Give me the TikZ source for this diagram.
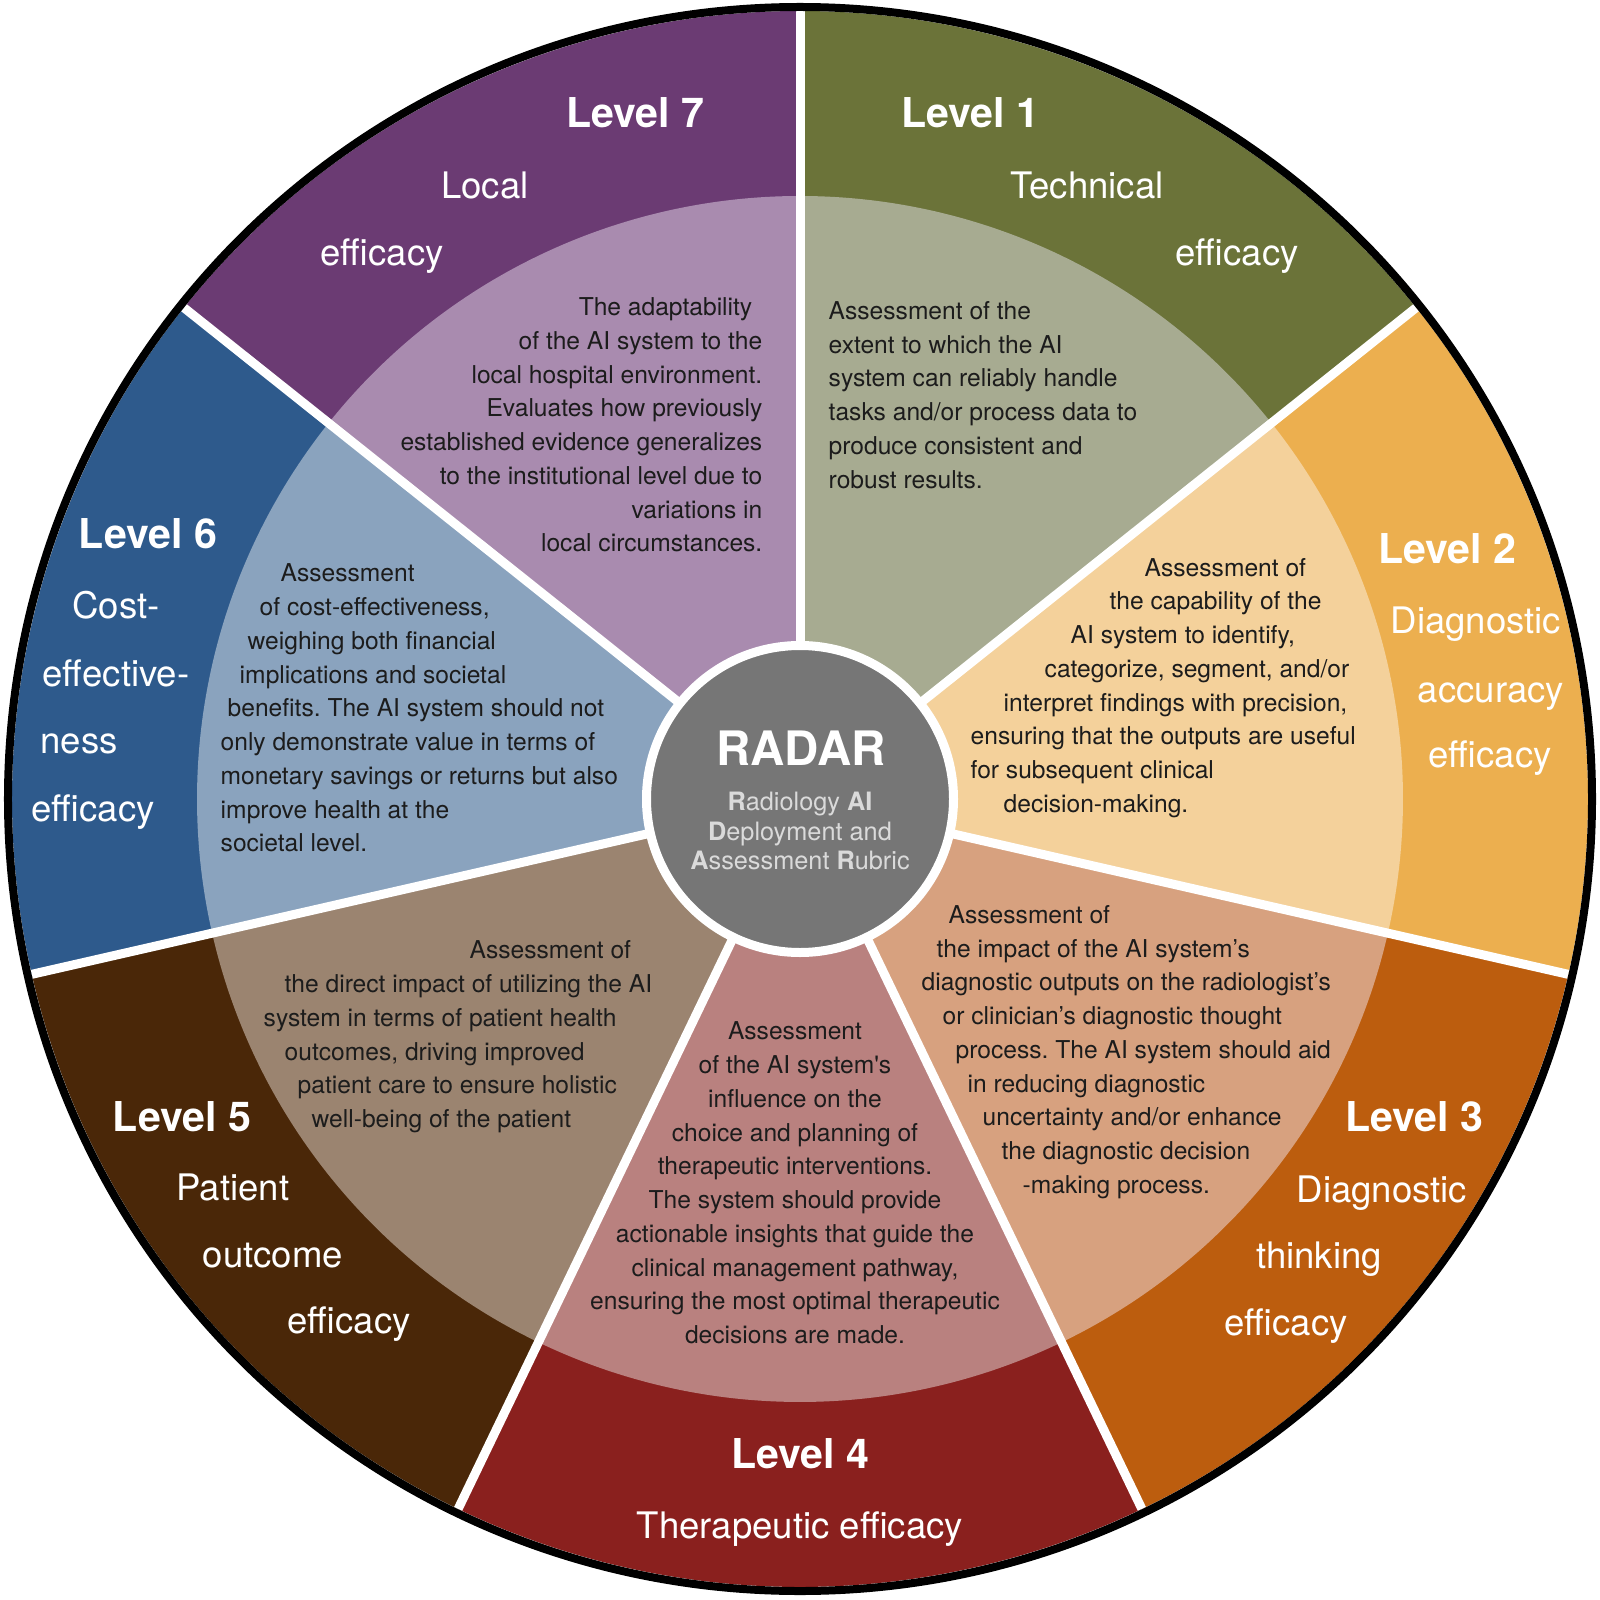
\documentclass[tikz,border=0pt]{standalone}
\usepackage{fontspec}
\setmainfont{TeX Gyre Heros}
\usepackage{tikz}
\usepackage{xcolor}
\frenchspacing

\definecolor{techout}{HTML}{6B7339}
\definecolor{techin}{HTML}{A7AB91}
\definecolor{accout}{HTML}{ECAF4F}
\definecolor{accin}{HTML}{F4D19B}
\definecolor{thinkout}{HTML}{BC5D0E}
\definecolor{thinkin}{HTML}{D7A17F}
\definecolor{therout}{HTML}{8A201E}
\definecolor{therin}{HTML}{B9817F}
\definecolor{patout}{HTML}{4A2708}
\definecolor{patin}{HTML}{9B8470}
\definecolor{costout}{HTML}{2E5A8C}
\definecolor{costin}{HTML}{8AA3BE}
\definecolor{localout}{HTML}{6B3B73}
\definecolor{localin}{HTML}{A98BAF}
\definecolor{hubgrey}{HTML}{767676}
\definecolor{hubtext}{HTML}{DADADA}
\definecolor{textdark}{HTML}{1C1C1C}

\tikzstyle{lvlhead} = [text=white, font=\fontsize{11.7}{14}\selectfont\bfseries, inner sep=0pt, text height=8.4pt, text depth=0pt]
\tikzstyle{lvlname} = [text=white, font=\fontsize{10.4}{12}\selectfont, inner sep=0pt, text height=6pt, text depth=0pt]
\tikzstyle{lvltext} = [text=textdark, font=\fontsize{7}{9.6}\selectfont, inner sep=0pt]
\tikzstyle{hub} = [circle, fill=hubgrey, draw=white, line width=0.09cm, minimum size=3.07cm, inner sep=0pt]
\tikzstyle{divider} = [white, line width=0.09cm]
\tikzstyle{rim} = [black, line width=0.08cm]

\begin{document}
\begin{tikzpicture}
    \fill[white] (-8,-8) rectangle (8,7.99);
    \useasboundingbox (-8,-8) rectangle (8,7.99);

    % outer ring
    \fill[techout] (0,0) -- (90:7.88) arc (90:38.571:7.88) -- cycle;
    \fill[accout] (0,0) -- (38.571:7.88) arc (38.571:-12.857:7.88) -- cycle;
    \fill[thinkout] (0,0) -- (-12.857:7.88) arc (-12.857:-64.286:7.88) -- cycle;
    \fill[therout] (0,0) -- (-64.286:7.88) arc (-64.286:-115.714:7.88) -- cycle;
    \fill[patout] (0,0) -- (-115.714:7.88) arc (-115.714:-167.143:7.88) -- cycle;
    \fill[costout] (0,0) -- (-167.143:7.88) arc (-167.143:-218.571:7.88) -- cycle;
    \fill[localout] (0,0) -- (141.429:7.88) arc (141.429:90:7.88) -- cycle;

    % inner disc
    \fill[techin] (0,0) -- (90:6.03) arc (90:38.571:6.03) -- cycle;
    \fill[accin] (0,0) -- (38.571:6.03) arc (38.571:-12.857:6.03) -- cycle;
    \fill[thinkin] (0,0) -- (-12.857:6.03) arc (-12.857:-64.286:6.03) -- cycle;
    \fill[therin] (0,0) -- (-64.286:6.03) arc (-64.286:-115.714:6.03) -- cycle;
    \fill[patin] (0,0) -- (-115.714:6.03) arc (-115.714:-167.143:6.03) -- cycle;
    \fill[costin] (0,0) -- (-167.143:6.03) arc (-167.143:-218.571:6.03) -- cycle;
    \fill[localin] (0,0) -- (141.429:6.03) arc (141.429:90:6.03) -- cycle;

    % white dividers
    \draw[divider] (0,0) -- (90:7.88);
    \draw[divider] (0,0) -- (38.571:7.88);
    \draw[divider] (0,0) -- (-12.857:7.88);
    \draw[divider] (0,0) -- (-64.286:7.88);
    \draw[divider] (0,0) -- (-115.714:7.88);
    \draw[divider] (0,0) -- (-167.143:7.88);
    \draw[divider] (0,0) -- (141.429:7.88);
    \draw[rim] (0,0) circle (7.92);

    % centre
    \node (radar) [hub] at (0,0) {};
    \node (radar_title) [text=white, inner sep=0pt, font=\fontsize{13.5}{16}\selectfont\bfseries] at (0.01,0.51) {RADAR};
    \node (radar_sub) [text=hubtext, inner sep=0pt, align=center, font=\fontsize{7.2}{8.3}\selectfont] at (0,-0.32)
    {\textbf{R}adiology \textbf{AI}\\ \textbf{D}eployment and\\ \textbf{A}ssessment \textbf{R}ubric};

    % level 1
    \node (level_1) [lvlhead] at (1.70,6.86) {Level 1};
    \node (technical) [lvlname] at (2.87,6.11) {Technical};
    \node (efficacy_1) [lvlname] at (4.37,5.44) {efficacy};
    \node (desc_1) [lvltext, align=left, anchor=west] at (0.28,4.04)
    {Assessment of the\\ extent to which the AI\\ system can reliably handle\\ tasks and/or process data to\\
     produce consistent and\\ robust results.};

    % level 2
    \node (level_2) [lvlhead] at (6.47,2.50) {Level 2};
    \node (diagnostic_2) [lvlname] at (6.76,1.76) {Diagnostic};
    \node (accuracy) [lvlname] at (6.91,1.07) {accuracy};
    \node (efficacy_2) [lvlname] at (6.90,0.42) {efficacy};
    \node (desc_2) [lvltext, align=left, anchor=west] at (1.70,1.11)
    {\hspace*{1.74cm}Assessment of\\ \hspace*{1.39cm}the capability of the\\ \hspace*{1.00cm}AI system to identify,\\
     \hspace*{0.74cm}categorize, segment, and/or\\ \hspace*{0.33cm}interpret findings with precision,\\
     ensuring that the outputs are useful\\ for subsequent clinical\\ \hspace*{0.33cm}decision-making.};

    % level 3
    \node (level_3) [lvlhead] at (6.14,-3.18) {Level 3};
    \node (diagnostic_3) [lvlname] at (5.82,-3.93) {Diagnostic};
    \node (thinking) [lvlname] at (5.19,-4.59) {thinking};
    \node (efficacy_3) [lvlname] at (4.86,-5.26) {efficacy};
    \node (desc_3) [lvltext, align=left, anchor=west] at (1.21,-2.53)
    {\hspace*{0.27cm}Assessment of\\ \hspace*{0.15cm}the impact of the AI system’s\\ diagnostic outputs on the radiologist’s\\
     \hspace*{0.21cm}or clinician’s diagnostic thought\\ \hspace*{0.34cm}process. The AI system should aid\\
     \hspace*{0.46cm}in reducing diagnostic\\ \hspace*{0.61cm}uncertainty and/or enhance\\
     \hspace*{0.80cm}the diagnostic decision\\ \hspace*{1.01cm}-making process.};

    % level 4
    \node (level_4) [lvlhead] at (0,-6.55) {Level 4};
    \node (therapeutic) [lvlname] at (0,-7.29) {Therapeutic efficacy};
    \node (desc_4) [lvltext, align=center] at (-0.05,-3.84)
    {Assessment\\ of the AI system\textquotesingle s\\ influence on the\\ choice and planning of\\
     therapeutic interventions.\\ The system should provide\\ actionable insights that guide the\\
     clinical management pathway,\\ ensuring the most optimal therapeutic\\ decisions are made.};

    % level 5
    \node (level_5) [lvlhead] at (-6.18,-3.18) {Level 5};
    \node (patient) [lvlname] at (-5.67,-3.91) {Patient};
    \node (outcome) [lvlname] at (-5.27,-4.58) {outcome};
    \node (efficacy_5) [lvlname] at (-4.51,-5.24) {efficacy};
    \node (desc_5) [lvltext, align=left, anchor=west] at (-5.37,-2.38)
    {\hspace*{2.06cm}Assessment of\\ \hspace*{0.21cm}the direct impact of utilizing the AI\\ system in terms of patient health\\
     \hspace*{0.21cm}outcomes, driving improved\\ \hspace*{0.34cm}patient care to ensure holistic\\
     \hspace*{0.48cm}well-being of the patient};

    % level 6
    \node (level_6) [lvlhead] at (-6.52,2.65) {Level 6};
    \node (cost) [lvlname] at (-6.84,1.91) {Cost-};
    \node (effective) [lvlname] at (-6.84,1.23) {effective-};
    \node (ness) [lvlname] at (-7.21,0.56) {ness};
    \node (efficacy_6) [lvlname] at (-7.07,-0.12) {efficacy};
    \node (desc_6) [lvltext, align=left, anchor=west] at (-5.80,0.91)
    {\hspace*{0.60cm}Assessment\\ \hspace*{0.39cm}of cost-effectiveness,\\ \hspace*{0.27cm}weighing both financial\\
     \hspace*{0.19cm}implications and societal\\ \hspace*{0.07cm}benefits. The AI system should not\\
     only demonstrate value in terms of\\ monetary savings or returns but also\\ improve health at the\\ societal level.};

    % level 7
    \node (level_7) [lvlhead] at (-1.65,6.86) {Level 7};
    \node (local) [lvlname] at (-3.15,6.11) {Local};
    \node (efficacy_7) [lvlname] at (-4.18,5.44) {efficacy};
    \node (desc_7) [lvltext, align=right, anchor=east] at (-0.37,3.74)
    {The adaptability\hspace*{0.10cm}\\ of the AI system to the\hspace*{0.06cm}\\ local hospital environment.\\
     Evaluates how previously\hspace*{0.04cm}\\ established evidence generalizes\\ to the institutional level due to\\
     variations in\\ local circumstances.};
\end{tikzpicture}
\end{document}
